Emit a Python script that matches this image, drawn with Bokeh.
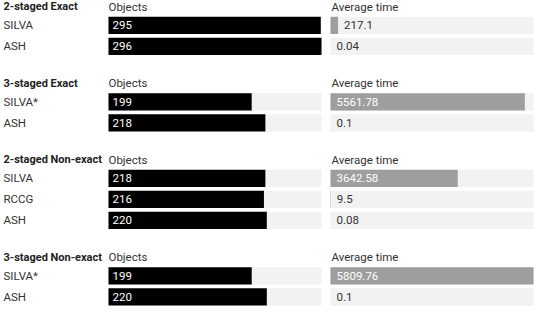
from bokeh.plotting import figure
from bokeh.models import Range1d, ColumnDataSource
from bokeh.core.properties import value
from bokeh.embed import file_html
from bokeh.resources import INLINE

# ---- data ----
sections = ["2-staged Exact", "3-staged Exact", "2-staged Non-exact", "3-staged Non-exact"]
methods = [["SILVA", "ASH"], ["SILVA*", "ASH"], ["SILVA", "RCCG", "ASH"], ["SILVA*", "ASH"]]
objects = [[295, 296], [199, 218], [218, 216, 220], [199, 220]]
avg_time = [[217.1, 0.04], [5561.78, 0.1], [3642.58, 9.5, 0.08], [5809.76, 0.1]]
col_titles = ["Objects", "Average time"]

# ---- layout (pixels) ----
W, H = 534, 307
OBJ_PX0, OBJ_PXW = 108, 213
TIME_PX0, TIME_PXW = 330, 203
PITCH, BAR_H = 22, 18
FONT = "Roboto"

obj_max = max(max(r) for r in objects)
time_max = max(max(r) for r in avg_time)

ox = obj_max / OBJ_PXW
tx = time_max / TIME_PXW

p = figure(width=W, height=H, output_backend="svg", toolbar_location=None,
           x_range=Range1d(-OBJ_PX0 * ox, (W - OBJ_PX0) * ox),
           y_range=Range1d(321, 0), min_border=0)
p.extra_x_ranges = {"time": Range1d(-TIME_PX0 * tx, (W - TIME_PX0) * tx)}
p.axis.visible = False
p.xgrid.visible = False
p.ygrid.visible = False
p.outline_line_color = None
p.background_fill_color = "white"
p.border_fill_color = "white"

hy, ht = [], []
ry, rname, robj, rtime = [], [], [], []
s = 0
for sec, ms, ob, tm in zip(sections, methods, objects, avg_time):
    hy.append(s + 6.5)
    ht.append(sec)
    for i, (m, o, t) in enumerate(zip(ms, ob, tm)):
        ry.append(s + 26 + PITCH * i)
        rname.append(m)
        robj.append(o)
        rtime.append(t)
    s += 36 + PITCH * len(ms)

n = len(ry)
src = ColumnDataSource(dict(
    y=ry, name=rname, obj=robj, time=rtime,
    obj_txt=[str(v) for v in robj],
    obj_bg=[obj_max] * n, time_bg=[time_max] * n,
    left=[0] * n,
    lab_x=[p.x_range.start] * n,
))

inside = [t / time_max > 0.3 for t in rtime]
tin = ColumnDataSource(dict(
    x=[0 if ins else t for ins, t in zip(inside, rtime)],
    y=ry, txt=[str(v) for v in rtime],
    col=["white" if ins else "#333333" for ins in inside],
))

# background bars
p.hbar(y="y", left="left", right="obj_bg", height=BAR_H, source=src,
       fill_color="#f2f2f2", line_color=None)
p.hbar(y="y", left="left", right="time_bg", height=BAR_H, source=src,
       fill_color="#f2f2f2", line_color=None, x_range_name="time")
# value bars
p.hbar(y="y", left="left", right="obj", height=BAR_H, source=src,
       fill_color="black", line_color=None)
p.hbar(y="y", left="left", right="time", height=BAR_H, source=src,
       fill_color="#9e9e9e", line_color=None, x_range_name="time")

# value texts
p.text(x="left", y="y", text="obj_txt", source=src, x_offset=4,
       text_font=value(FONT), text_font_size="11.5px", text_color="white",
       text_baseline="middle", text_align="left")
p.text(x="x", y="y", text="txt", source=tin, x_offset=6, x_range_name="time",
       text_font=value(FONT), text_font_size="11.5px", text_color="col",
       text_baseline="middle", text_align="left")

# row labels
p.text(x="lab_x", y="y", text="name", source=src, x_offset=3,
       text_font=value(FONT), text_font_size="11.5px", text_color="#333333",
       text_baseline="middle", text_align="left")

# section headers
hsrc = ColumnDataSource(dict(x=[p.x_range.start] * len(hy), y=hy, t=ht,
                             ox=[0] * len(hy), c1=[col_titles[0]] * len(hy),
                             c2=[col_titles[1]] * len(hy)))
p.text(x="x", y="y", text="t", source=hsrc, x_offset=3,
       text_font=value(FONT), text_font_size="11px", text_font_style="bold",
       text_color="#222222", text_baseline="middle", text_align="left")
p.text(x="ox", y="y", text="c1", source=hsrc,
       text_font=value(FONT), text_font_size="11.5px", text_color="#333333",
       text_baseline="middle", text_align="left")
p.text(x="ox", y="y", text="c2", source=hsrc, x_range_name="time", x_offset=1,
       text_font=value(FONT), text_font_size="11.5px", text_color="#333333",
       text_baseline="middle", text_align="left")

open("out.html", "w").write(file_html(p, INLINE))
